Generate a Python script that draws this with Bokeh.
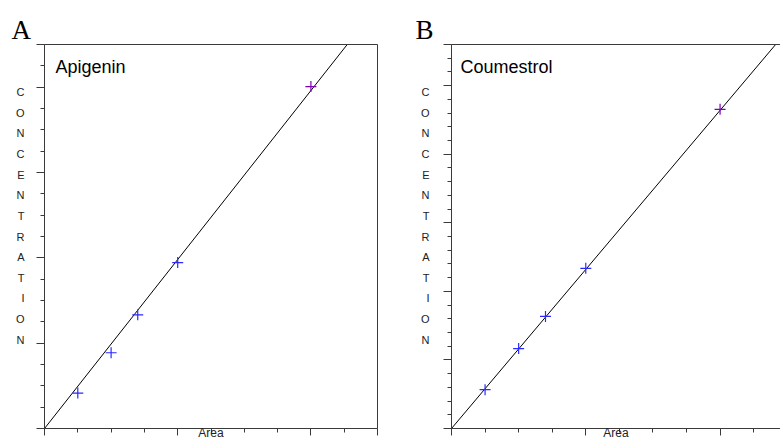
from bokeh.plotting import figure
from bokeh.models import Range1d, LinearAxis, FixedTicker, Label, ColumnDataSource, Title, CustomJSTickFormatter
from bokeh.layouts import row
from bokeh.embed import file_html
from bokeh.resources import INLINE

# ---- data ----
area_a = [1.0, 2.0, 2.8, 4.0, 8.0]
conc_a = [1.66, 3.55, 5.33, 7.78, 16.03]
slope_a = 1.98

area_b = [1.0, 2.0, 2.8, 4.0, 8.0]
conc_b = [2.83, 5.83, 8.17, 11.68, 23.27]
slope_b = 2.9

point_colors = ["#2a2aff", "#2a2aff", "#2a2aff", "#2a2aff", "#7b00b4"]

x_range_a = (0, 10)
y_range_a = (0, 18)
x_major_a = [0, 4, 8, 10]
y_major_a = [0, 4, 8, 12, 16, 18]

x_range_b = (0, 9.8)
y_range_b = (0, 28)
x_major_b = [0, 4, 8]
y_major_b = [0, 5, 10, 15, 20, 25, 28]

x_title = "Area"
y_title = "CONCENTRATION"

AX = "#3a3a3a"
SANS = "Liberation Sans"
SERIF = "Liberation Serif"


def make_panel(tag, name, xs, ys, slope, xr, yr, xmaj, ymaj, left, right, ylab_standoff, tag_offset, name_x, right_border):
    W, H = 390, 442
    top, bottom = 44, 14
    p = figure(width=W, height=H, x_range=Range1d(*xr), y_range=Range1d(*yr),
               x_axis_type=None, y_axis_type=None, toolbar_location=None,
               output_backend="svg", min_border_left=left, min_border_right=right,
               min_border_top=top, min_border_bottom=bottom, outline_line_color=None,
               background_fill_color="white", border_fill_color="white")
    p.xgrid.visible = False
    p.ygrid.visible = False

    def style(ax, maj_out, min_out):
        ax.axis_line_color = AX
        ax.axis_line_width = 1
        ax.major_tick_line_color = AX
        ax.minor_tick_line_color = AX
        ax.major_tick_in = 0
        ax.minor_tick_in = 0
        ax.major_tick_out = maj_out
        ax.minor_tick_out = min_out
        ax.formatter = CustomJSTickFormatter(code="return ''")
        ax.major_label_text_font_size = "1px"
        ax.major_label_standoff = 0

    ly = LinearAxis(ticker=FixedTicker(ticks=ymaj, minor_ticks=list(range(int(yr[0]), int(yr[1]) + 1))))
    style(ly, 8, 4)
    ly.axis_label = "\n".join(list(y_title)) + "\n \n "
    ly.axis_label_orientation = "horizontal"
    ly.axis_label_text_font = SANS
    ly.axis_label_text_font_style = "normal"
    ly.axis_label_text_font_size = "11px"
    ly.axis_label_text_color = "#222222"
    ly.axis_label_text_line_height = 1.72
    ly.axis_label_standoff = ylab_standoff
    p.add_layout(ly, "left")

    bx = LinearAxis(ticker=FixedTicker(ticks=xmaj, minor_ticks=list(range(int(xr[0]), int(xr[1]) + 1))))
    style(bx, 7, 4)
    bx.axis_label = x_title
    bx.axis_label_text_font = SANS
    bx.axis_label_text_font_style = "normal"
    bx.axis_label_text_font_size = "12px"
    bx.axis_label_text_color = "#222222"
    bx.axis_label_standoff = -10
    p.add_layout(bx, "below")

    ta = LinearAxis(ticker=FixedTicker(ticks=[]))
    style(ta, 0, 0)
    p.add_layout(ta, "above")
    if right_border:
        ra = LinearAxis(ticker=FixedTicker(ticks=[]))
        style(ra, 0, 0)
        p.add_layout(ra, "right")

    p.add_layout(Title(text=tag, align="left", offset=tag_offset, standoff=0,
                       text_font=SERIF, text_font_size="27px", text_font_style="normal",
                       text_color="black"), "above")

    # fit line through the origin
    x_end = xr[1]
    p.line(x=[0, x_end], y=[0, slope * x_end], line_color="black", line_width=1)

    src = ColumnDataSource(dict(x=xs, y=ys, c=point_colors))
    p.scatter(x="x", y="y", source=src, marker="cross", size=11, line_color="c", line_width=1.2)

    fw = W - left - right
    fh = H - top - bottom

    def dx(px):
        return xr[0] + (px - left) / fw * (xr[1] - xr[0])

    def dy(py):
        return yr[0] + (H - bottom - py) / fh * (yr[1] - yr[0])

    p.add_layout(Label(x=dx(name_x), y=dy(66), text=name, text_align="left", text_baseline="middle",
                       text_font=SANS, text_font_size="18px", text_color="black"))
    return p


pa = make_panel("A", "Apigenin", area_a, conc_a, slope_a, x_range_a, y_range_a, x_major_a, y_major_a,
                44, 13, 12, -33, 55, True)
pb = make_panel("B", "Coumestrol", area_b, conc_b, slope_b, x_range_b, y_range_b, x_major_b, y_major_b,
                61, 0, 14, -36, 460 - 390, False)

layout = row(pa, pb)
open("out.html", "w").write(file_html(layout, INLINE))
